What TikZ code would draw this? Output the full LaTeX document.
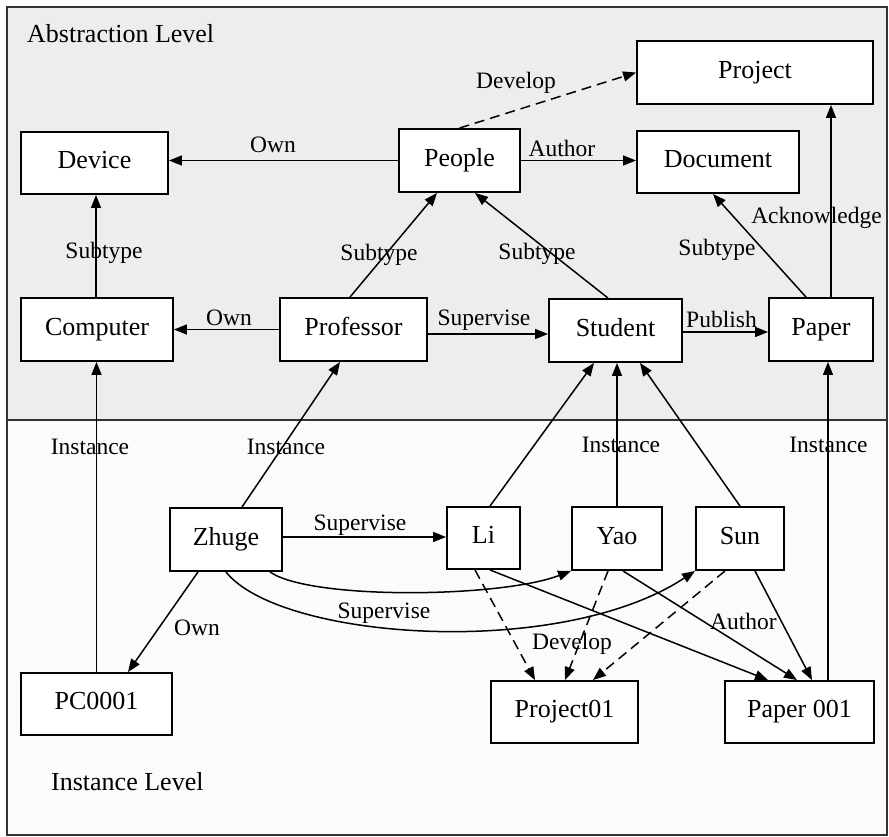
\documentclass[tikz,border=0pt]{standalone}
\usepackage{fontspec}
\setmainfont{Liberation Serif}
\usetikzlibrary{arrows.meta}
\definecolor{abstractfill}{HTML}{EDEDED}
\definecolor{instancefill}{HTML}{FBFBFB}
\definecolor{framecol}{HTML}{333333}
\begin{document}
\begin{tikzpicture}[x=1pt,y=-1pt,
  box/.style={draw=black,line width=1.9pt,fill=white,inner sep=0pt,
    text height=17pt,text depth=6pt,font=\fontsize{26}{30}\selectfont},
  lab/.style={anchor=base,inner sep=0pt,font=\fontsize{23.5}{28}\selectfont},
  lvl/.style={anchor=base west,inner sep=0pt,font=\fontsize{26}{30}\selectfont},
  arr/.style={line width=1.5pt,-{Triangle[length=13pt,width=10pt]}},
  darr/.style={arr,dash pattern=on 10pt off 6pt}]
\useasboundingbox (0,0) rectangle (889,836);

% the two levels
\filldraw[fill=abstractfill,draw=framecol,line width=1.4pt] (7,7) rectangle (887,420);
\filldraw[fill=instancefill,draw=framecol,line width=1.4pt] (7,420) rectangle (887,835);
\node[lvl] (abslevel) at (27,42) {Abstraction Level};
\node[lvl] (inslevel) at (51,790) {Instance Level};

% abstraction level types
\node[box,minimum width=236pt,minimum height=63pt] (project) at (755,72.5) {Project};
\node[box,minimum width=147pt,minimum height=62pt] (device) at (94.5,163) {Device};
\node[box,minimum width=121pt,minimum height=63pt] (people) at (459.5,160.5) {People};
\node[box,minimum width=162pt,minimum height=62pt] (document) at (718,162) {Document};
\node[box,minimum width=152pt,minimum height=63pt] (computer) at (97,329.5) {Computer};
\node[box,minimum width=147pt,minimum height=63pt] (professor) at (353.5,329.5) {Professor};
\node[box,minimum width=133pt,minimum height=63pt] (student) at (615.5,330.5) {Student};
\node[box,minimum width=104pt,minimum height=63pt] (paper) at (821,329.5) {Paper};

% instance level objects
\node[box,minimum width=112pt,minimum height=63pt] (zhuge) at (226,539.5) {Zhuge};
\node[box,minimum width=73pt,minimum height=62pt] (li) at (483.5,538) {Li};
\node[box,minimum width=90pt,minimum height=63pt] (yao) at (617,538.5) {Yao};
\node[box,minimum width=88pt,minimum height=63pt] (sun) at (740,538.5) {Sun};
\node[box,minimum width=151pt,minimum height=62pt] (pc) at (96.5,704) {PC0001};
\node[box,minimum width=147pt,minimum height=62pt] (project01) at (564.5,712) {Project01};
\node[box,minimum width=149pt,minimum height=62pt] (paper001) at (799.5,712) {Paper 001};

% relations between types
\draw[arr] (people.west) -- (people.west -| device.east);
\draw[arr] (people.east) -- (people.east -| document.west);
\draw[darr] (people.north) -- (project.west);
\draw[arr] ([xshift=-1pt]computer.north) -- ([xshift=-1pt]computer.north |- device.south);
\draw[arr] ([xshift=-3.5pt]professor.north) -- ([xshift=-22.5pt]people.south);
\draw[arr] (professor.west) -- (professor.west -| computer.east);
\draw[arr] ([yshift=-4.5pt]professor.east) -- ([yshift=-4.5pt]professor.east -| student.west);
\draw[arr] ([xshift=-7.5pt]student.north) -- ([xshift=15.5pt]people.south);
\draw[arr] ([yshift=-1.5pt]student.east) -- ([yshift=-1.5pt]student.east -| paper.west);
\draw[arr] ([xshift=-15pt]paper.north) -- ([xshift=-5pt]document.south);
\draw[arr] ([xshift=10pt]paper.north) -- ([xshift=10pt]paper.north |- project.south);

% instance-of links
\draw[arr] (pc.north) -- (pc.north |- computer.south);
\draw[arr] ([xshift=16pt]zhuge.north) -- ([xshift=-13.5pt]professor.south);
\draw[arr] ([xshift=6.5pt]li.north) -- ([xshift=-21.5pt]student.south);
\draw[arr] (yao.north) -- (yao.north |- student.south);
\draw[arr] (sun.north) -- ([xshift=24.5pt]student.south);
\draw[arr] ([xshift=28.5pt]paper001.north) -- ([xshift=28.5pt]paper001.north |- paper.south);

% relations between objects
\draw[arr] ([yshift=2.5pt]zhuge.east) -- ([yshift=2.5pt]zhuge.east -| li.west);
\draw[arr] ([xshift=44pt]zhuge.south) .. controls (310,600) and (500,598) .. (yao.south west);
\draw[arr] (zhuge.south) .. controls (280,640) and (560,660) .. (sun.south west);
\draw[arr] ([xshift=-28pt]zhuge.south) -- ([xshift=31.5pt]pc.north);
\draw[darr] ([xshift=-8.5pt]li.south) -- ([xshift=-29.5pt]project01.north);
\draw[darr] ([xshift=-9pt]yao.south) -- ([xshift=0.5pt]project01.north);
\draw[darr] ([xshift=-15pt]sun.south) -- ([xshift=28.5pt]project01.north);
\draw[arr] ([xshift=6.5pt]li.south) -- ([xshift=-31.5pt]paper001.north);
\draw[arr] ([xshift=6pt]yao.south) -- ([xshift=-2.5pt]paper001.north);
\draw[arr] ([xshift=15pt]sun.south) -- ([xshift=12.5pt]paper001.north);

% relation labels
\node[lab] (lown1) at (273,152) {Own};
\node[lab] (lauthor1) at (562,156) {Author};
\node[lab] (ldevelop1) at (516,88) {Develop};
\node[lab] (lsub1) at (104,258) {Subtype};
\node[lab] (lsub2) at (379,260) {Subtype};
\node[lab] (lsub3) at (537,259) {Subtype};
\node[lab] (lsub4) at (717,255) {Subtype};
\node[lab] (lack) at (816.5,223) {Acknowledge};
\node[lab] (lown2) at (229,325) {Own};
\node[lab] (lsup1) at (484,325) {Supervise};
\node[lab] (lpub) at (721.5,327) {Publish};
\node[lab] (linst1) at (90,454) {Instance};
\node[lab] (linst2) at (286,454) {Instance};
\node[lab] (linst3) at (621,452) {Instance};
\node[lab] (linst4) at (828.5,452) {Instance};
\node[lab] (lsup2) at (360,530) {Supervise};
\node[lab] (lsup3) at (384,618) {Supervise};
\node[lab] (lown3) at (197,635) {Own};
\node[lab] (ldevelop2) at (572,649) {Develop};
\node[lab] (lauthor2) at (743.5,629) {Author};
\end{tikzpicture}
\end{document}
